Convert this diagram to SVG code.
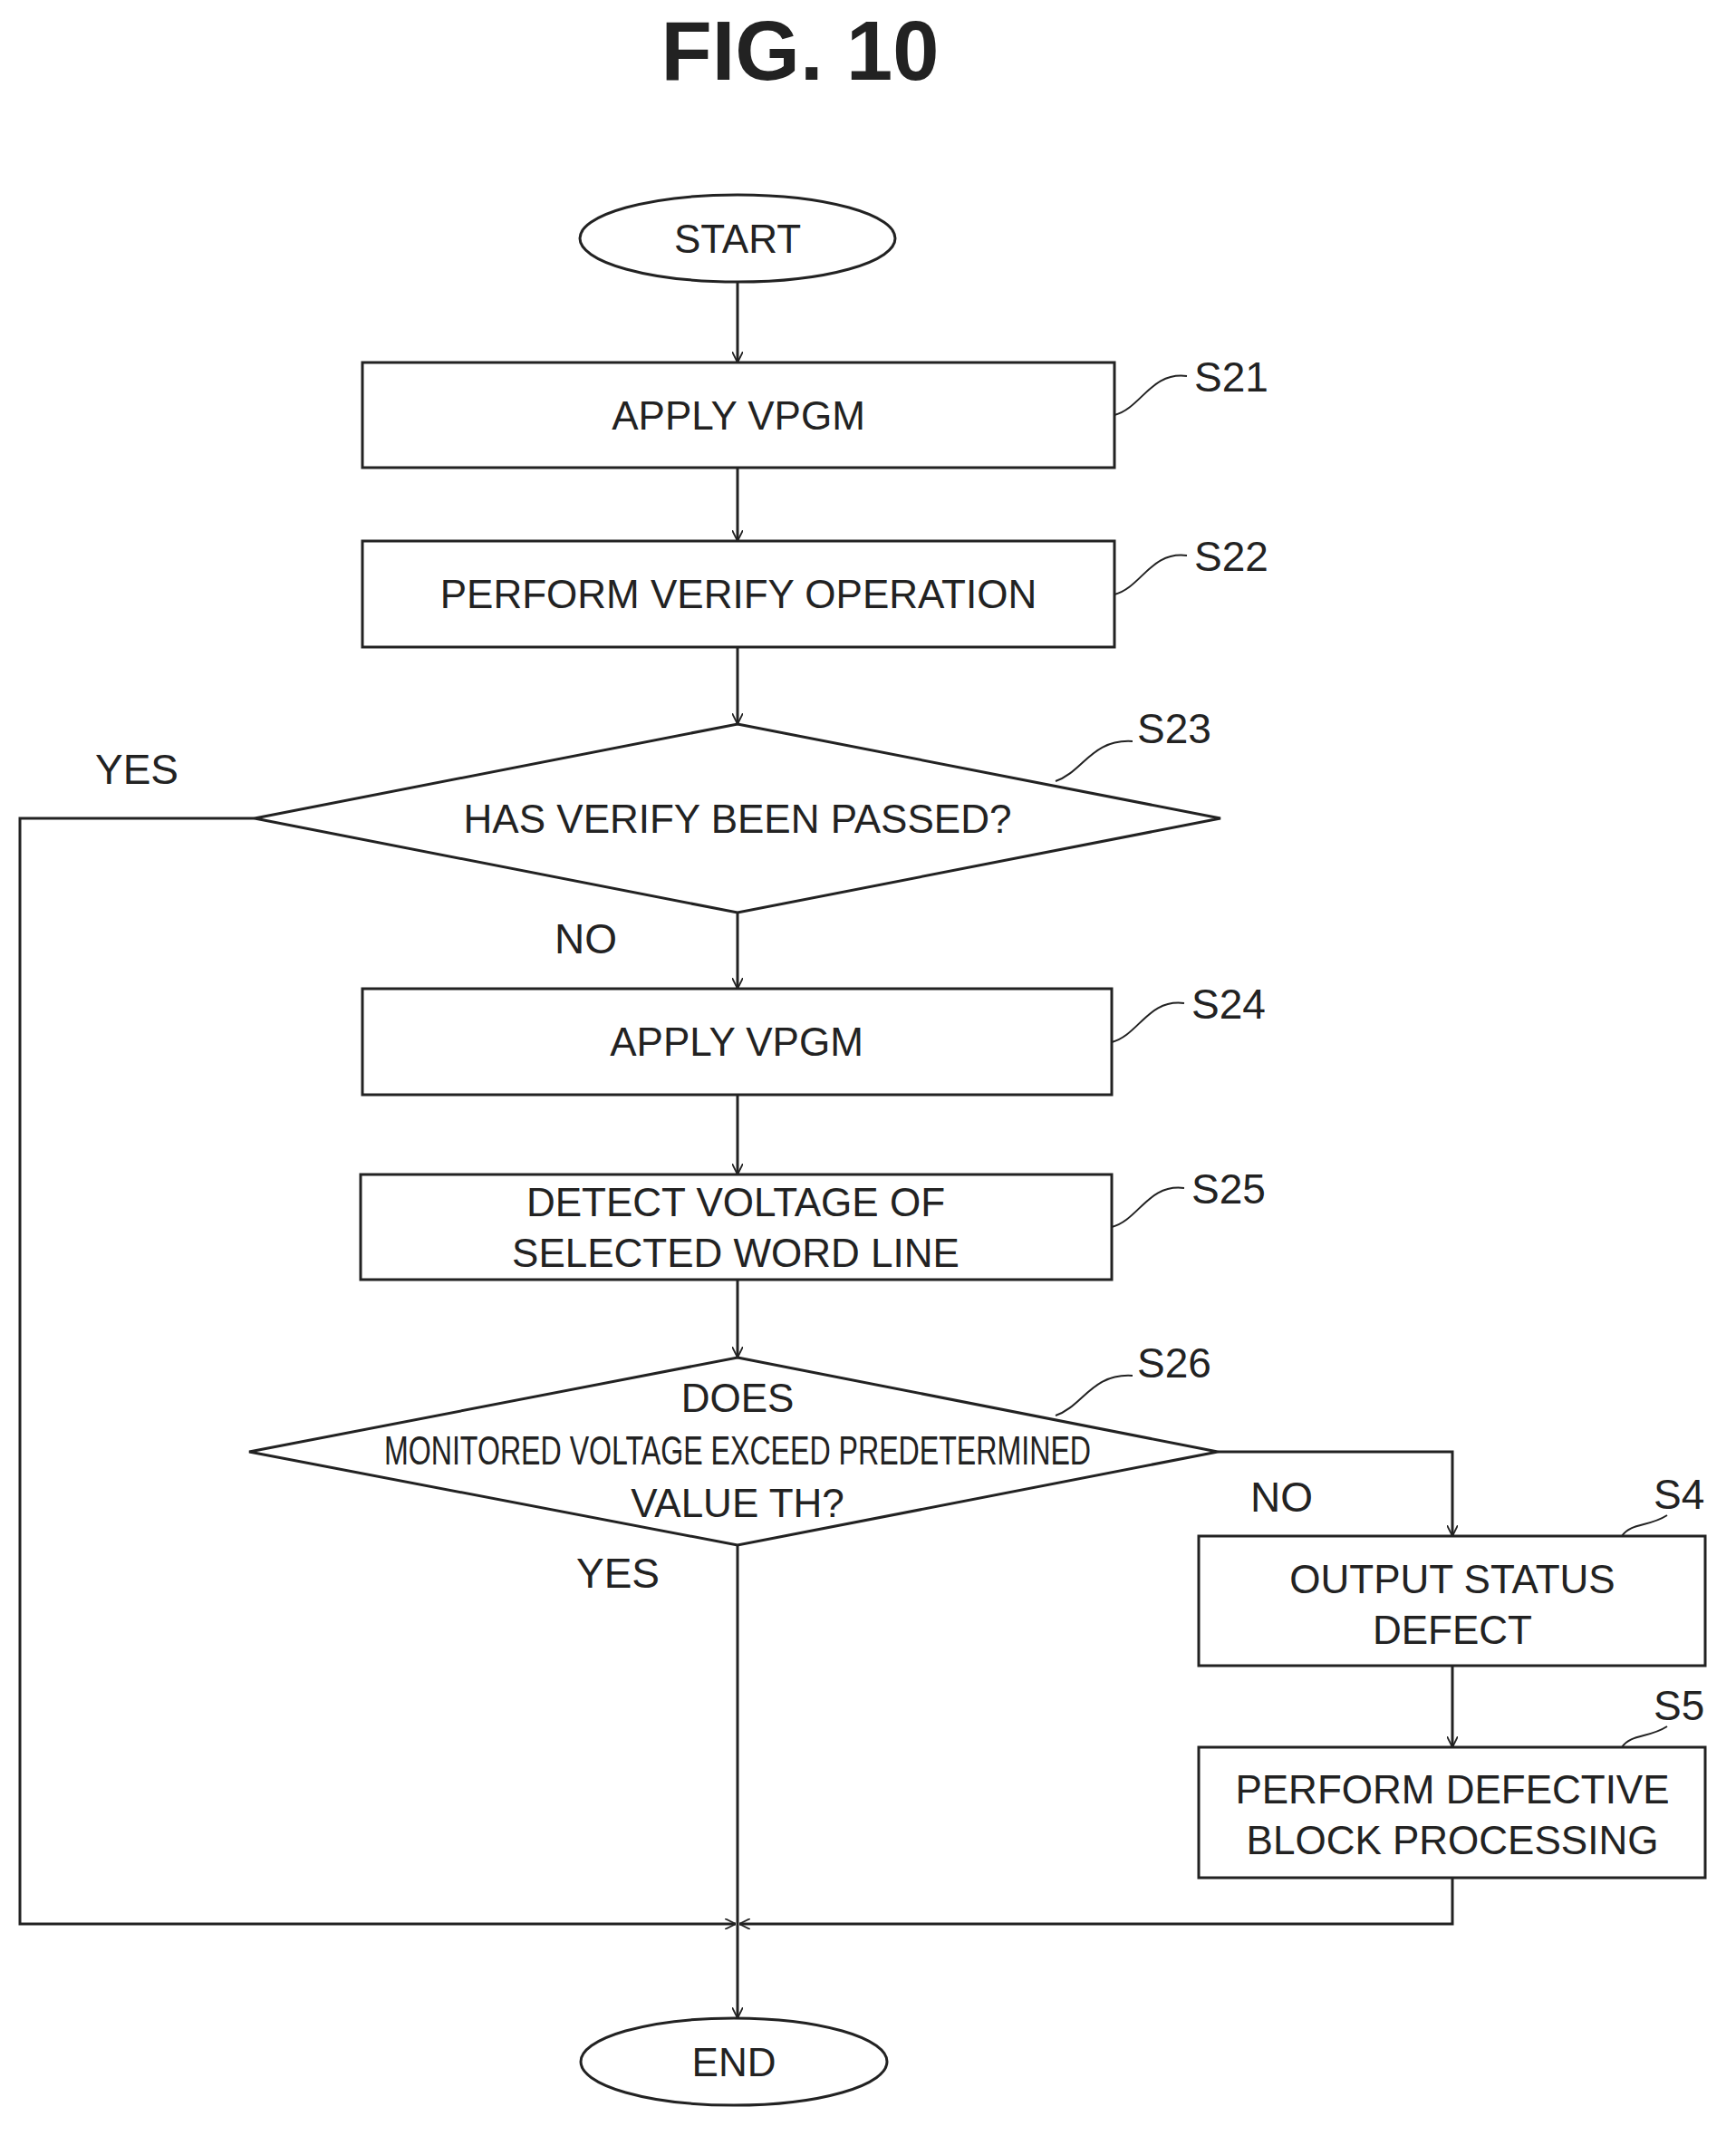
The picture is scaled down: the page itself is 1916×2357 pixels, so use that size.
<svg xmlns="http://www.w3.org/2000/svg" width="1916" height="2357" viewBox="0 0 1916 2357">
<style>
.s{fill:#fff;stroke:#222;stroke-width:3}
.c{fill:none;stroke:#222;stroke-width:3}
.t{font-family:"Liberation Sans",Arial,sans-serif;font-size:44px;fill:#222;text-anchor:middle}
.l{font-family:"Liberation Sans",Arial,sans-serif;font-size:46px;fill:#222}
.lead{fill:none;stroke:#222;stroke-width:2}
</style>
<defs><marker id="a" viewBox="0 0 10 10" refX="10" refY="5" markerWidth="12" markerHeight="12" markerUnits="userSpaceOnUse" orient="auto"><path d="M0,0 L10,5 L0,10" fill="none" stroke="#222" stroke-width="1.5"/></marker></defs>
<rect width="1916" height="2357" fill="#fff"/>
<text x="883" y="88" font-family="Liberation Sans,Arial,sans-serif" font-weight="bold" font-size="92" text-anchor="middle" fill="#222">FIG. 10</text>
<g id="connectors">
<path class="c" d="M814,311 V400" marker-end="url(#a)"/>
<path class="c" d="M814,516 V597" marker-end="url(#a)"/>
<path class="c" d="M814,714 V799" marker-end="url(#a)"/>
<path class="c" d="M814,1007 V1091" marker-end="url(#a)"/>
<path class="c" d="M814,1208 V1296" marker-end="url(#a)"/>
<path class="c" d="M814,1412 V1498" marker-end="url(#a)"/>
<path class="c" d="M1344,1602 H1603 V1695" marker-end="url(#a)"/>
<path class="c" d="M1603,1838 V1928" marker-end="url(#a)"/>
<path class="c" d="M281,903 H22 V2123 H812" marker-end="url(#a)"/>
<path class="c" d="M1603,2072 V2123 H816" marker-end="url(#a)"/>
<path class="c" d="M814,1705 V2227" marker-end="url(#a)"/>
<text class="l" x="105" y="865">YES</text>
<text class="l" x="612" y="1052">NO</text>
<text class="l" x="1380" y="1668">NO</text>
<text class="l" x="636" y="1752">YES</text>
</g>
<g id="start"><ellipse class="s" cx="814" cy="263" rx="174" ry="48"/><text class="t" x="814" y="279">START</text></g>
<g id="s21"><rect class="s" x="400" y="400" width="830" height="116"/><text class="t" x="815" y="474">APPLY VPGM</text><path class="lead" d="M1230,458 C1260,450 1270,410 1310,415"/><text class="l" x="1318" y="432">S21</text></g>
<g id="s22"><rect class="s" x="400" y="597" width="830" height="117"/><text class="t" x="815" y="671">PERFORM VERIFY OPERATION</text><path class="lead" d="M1230,656 C1260,648 1270,608 1310,613"/><text class="l" x="1318" y="630">S22</text></g>
<g id="s23"><polygon class="s" points="814,799 1347,903 814,1007 281,903"/><text class="t" x="814" y="919">HAS VERIFY BEEN PASSED?</text><path class="lead" d="M1165,862 C1195,852 1205,815 1250,818"/><text class="l" x="1255" y="820">S23</text></g>
<g id="s24"><rect class="s" x="400" y="1091" width="827" height="117"/><text class="t" x="813" y="1165">APPLY VPGM</text><path class="lead" d="M1227,1150 C1257,1142 1267,1102 1307,1107"/><text class="l" x="1315" y="1124">S24</text></g>
<g id="s25"><rect class="s" x="398" y="1296" width="829" height="116"/><text class="t" x="812" y="1342">DETECT VOLTAGE OF</text><text class="t" x="812" y="1398">SELECTED WORD LINE</text><path class="lead" d="M1227,1354 C1257,1346 1267,1306 1307,1311"/><text class="l" x="1315" y="1328">S25</text></g>
<g id="s26"><polygon class="s" points="814,1498 1344,1602 814,1705 275,1602"/><text class="t" x="814" y="1558" font-size="38">DOES</text><text class="t" x="814" y="1616" font-size="38" textLength="780" lengthAdjust="spacingAndGlyphs">MONITORED VOLTAGE EXCEED PREDETERMINED</text><text class="t" x="814" y="1674" font-size="38">VALUE TH?</text><path class="lead" d="M1165,1562 C1195,1552 1205,1515 1250,1518"/><text class="l" x="1255" y="1520">S26</text></g>
<g id="s4"><rect class="s" x="1323" y="1695" width="559" height="143"/><text class="t" x="1603" y="1758">OUTPUT STATUS</text><text class="t" x="1603" y="1814">DEFECT</text><path class="lead" d="M1790,1695 C1800,1680 1820,1685 1840,1672"/><text class="l" x="1825" y="1665">S4</text></g>
<g id="s5"><rect class="s" x="1323" y="1928" width="559" height="144"/><text class="t" x="1603" y="1990">PERFORM DEFECTIVE</text><text class="t" x="1603" y="2046">BLOCK PROCESSING</text><path class="lead" d="M1790,1928 C1800,1913 1820,1918 1840,1905"/><text class="l" x="1825" y="1898">S5</text></g>
<g id="end"><ellipse class="s" cx="810" cy="2275" rx="169" ry="48"/><text class="t" x="810" y="2291">END</text></g>
</svg>
